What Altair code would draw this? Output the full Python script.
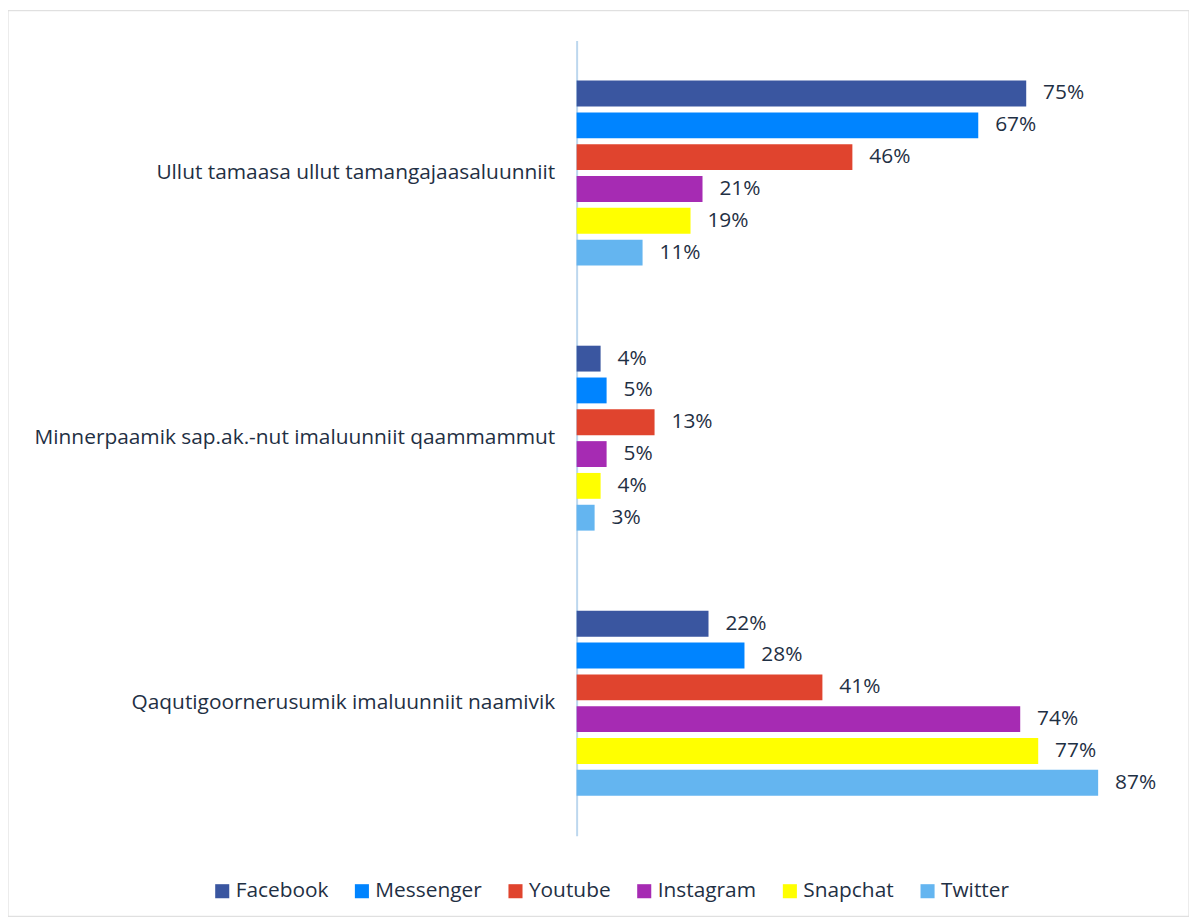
import altair as alt
import pandas as pd

categories = [
    "Ullut tamaasa ullut tamangajaasaluunniit",
    "Minnerpaamik sap.ak.-nut imaluunniit qaammammut",
    "Qaqutigoornerusumik imaluunniit naamivik",
]
series = ["Facebook", "Messenger", "Youtube", "Instagram", "Snapchat", "Twitter"]
colors = ["#3A56A0", "#0084FF", "#E0442E", "#A62BB3", "#FFFF00", "#64B5F0"]
values = [
    [75, 67, 46, 21, 19, 11],
    [4, 5, 13, 5, 4, 3],
    [22, 28, 41, 74, 77, 87],
]

rows = []
for c, vals in zip(categories, values):
    for s, v in zip(series, vals):
        rows.append({"category": c, "series": s, "value": v, "label": f"{v}%"})
df = pd.DataFrame(rows)

FONT = "Open Sans"
TXT = "#1F3044"
FS = 21

ysc = alt.Scale(paddingInner=0.3025, paddingOuter=0.15125)
y_enc = alt.Y("category:N", sort=categories, scale=ysc,
              axis=alt.Axis(title=None, ticks=False, labelFontSize=FS, labelFont=FONT,
                            labelColor=TXT, labelPadding=22, domainColor="#BDD7EE",
                            domainWidth=2, labelLimit=600))
yoff_scale = alt.Scale(paddingInner=0.1875, paddingOuter=0)
x_enc = alt.X("value:Q", scale=alt.Scale(domain=[0, 100], nice=False), axis=None)

bars = alt.Chart(df).mark_bar().encode(
    y=y_enc, yOffset=alt.YOffset("series:N", sort=series, scale=yoff_scale), x=x_enc,
    color=alt.Color("series:N", sort=series,
                    scale=alt.Scale(domain=series, range=colors),
                    legend=alt.Legend(title=None, orient="none", direction="horizontal",
                                      legendX=-367, legendY=845, symbolType="square",
                                      symbolSize=200, symbolStrokeWidth=0,
                                      labelFontSize=FS, labelFont=FONT, labelColor=TXT,
                                      columnPadding=22.5, labelOffset=3, padding=0)),
)

text = alt.Chart(df).mark_text(align="left", baseline="middle", dx=17, fontSize=FS,
                               font=FONT, color=TXT).encode(
    y=alt.Y("category:N", sort=categories, scale=ysc),
    yOffset=alt.YOffset("series:N", sort=series, scale=yoff_scale),
    x="value:Q", text="label:N",
)

frame = alt.Chart(pd.DataFrame({"a": [0]})).mark_rect(
    fill=None, stroke="#D9D9D9", strokeWidth=1, clip=False
).encode(x=alt.value(-572), x2=alt.value(616), y=alt.value(-30), y2=alt.value(881))

chart = alt.layer(bars, text, frame).properties(
    width=603, height=800,
    padding={"left": 572, "top": 30, "right": 13, "bottom": 82},
    autosize=alt.AutoSizeParams(type="none"),
    background="white",
).configure_view(strokeWidth=0, stroke=None)

chart.save("out.html", embed_options={"renderer": "svg", "actions": False})
